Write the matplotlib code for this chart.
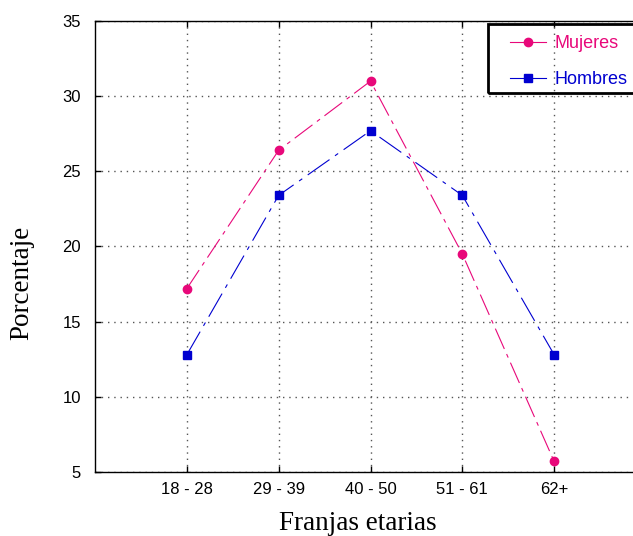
import matplotlib
matplotlib.use("Agg")
from matplotlib import pyplot as plt
from matplotlib.patches import Rectangle

franjas = ["18 - 28", "29 - 39", "40 - 50", "51 - 61", "62+"]
mujeres = [17.2, 26.4, 31.0, 19.5, 5.7]
hombres = [12.8, 23.4, 27.7, 23.4, 12.8]

rosa = "#e8087a"
azul = "#0000d0"

plt.rcParams["font.family"] = ["Liberation Sans", "DejaVu Sans"]

fig = plt.figure(figsize=(6.33, 5.36), dpi=100)
ax = fig.add_axes([95 / 633, 1 - 472 / 536, 551 / 633, 451 / 536])

x = list(range(1, len(franjas) + 1))
ax.plot(x, mujeres, color=rosa, lw=0.8, marker="o", ms=6,
        dashes=[20, 5, 3.5, 5], label="Mujeres")
ax.plot(x, hombres, color=azul, lw=0.8, marker="s", ms=6,
        dashes=[24, 6, 3.5, 6], label="Hombres")

ax.set_xlim(0, 6)
ax.set_ylim(5, 35)
ax.set_xticks(x)
ax.set_xticklabels(franjas, fontsize=12)
ax.set_yticks(range(5, 36, 5))
ax.tick_params(axis="y", labelsize=12, pad=10)
ax.tick_params(axis="x", pad=7)
ax.tick_params(direction="in", top=True, right=True, length=4, width=1)
ax.grid(True, color="#555555", linestyle=(0, (1, 3.5)), lw=1)
for s in ax.spines.values():
    s.set_linewidth(1)

ax.set_xlabel("Franjas etarias", family="Liberation Serif", fontsize=19.5)
ax.set_ylabel("Porcentaje", family="Liberation Serif", fontsize=19.5)
ax.xaxis.set_label_coords(0.477, -0.086)
ax.yaxis.set_label_coords(-0.111, 0.42)

# cuadro de la leyenda
fig.patches.append(Rectangle((488 / 633, 1 - 93 / 536), 160 / 633, 69 / 536,
                             transform=fig.transFigure, fill=False,
                             edgecolor="black", lw=2))

leg = fig.legend(loc="upper left", bbox_to_anchor=(510 / 633, 1 - 35 / 536),
                 fontsize=13, handlelength=2.0, handletextpad=0.45,
                 frameon=False, borderpad=0, borderaxespad=0, labelspacing=1.05)
for t, c in zip(leg.get_texts(), [rosa, azul]):
    t.set_color(c)
for h in leg.legend_handles:
    h.set_linestyle("-")

fig.savefig("out.png", dpi=100)
